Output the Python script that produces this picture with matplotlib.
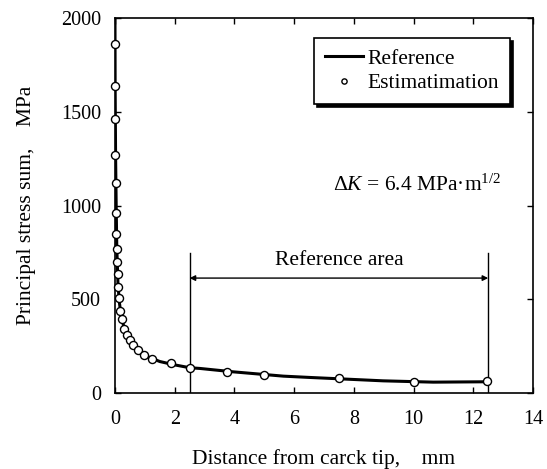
import matplotlib
matplotlib.use("Agg")
import matplotlib.pyplot as plt

plt.rcParams['font.family'] = ['Liberation Serif', 'DejaVu Serif']
plt.rcParams['mathtext.fontset'] = 'custom'
plt.rcParams['mathtext.rm'] = 'Liberation Serif'
plt.rcParams['mathtext.it'] = 'Liberation Serif:italic'

# Reference curve
ref_x = [0.0, 0.005, 0.02, 0.04, 0.06, 0.1, 0.15, 0.2, 0.3, 0.4, 0.5, 0.75,
         1.0, 1.5, 2.0, 2.5, 2.85, 3.96, 5.64, 6.53, 7.76, 8.98, 10.66, 12.45]
ref_y = [2000, 1640, 1270, 1000, 780, 580, 480, 420, 350, 305, 275, 230,
         200, 168, 150, 135, 131, 113, 90, 83, 74, 65, 58, 60]

# Estimated points
est_x = [0.0, 0.0, 0.0, 0.0, 0.04, 0.05, 0.04, 0.06, 0.06, 0.09, 0.09, 0.13,
         0.18, 0.22, 0.31, 0.39, 0.5, 0.61, 0.76, 0.98, 1.23, 1.88, 2.5,
         3.74, 4.99, 7.51, 10.0, 12.47]
est_y = [1860, 1640, 1460, 1270, 1120, 960, 850, 770, 700, 635, 565, 505,
         440, 397, 344, 309, 282, 255, 229, 202, 179, 161, 135,
         110, 96, 78, 57, 64]

area_left = 2.5
area_right = 12.5

fig = plt.figure(figsize=(5.47, 4.69), dpi=100)
ax = fig.add_axes([0.2102, 0.162, 0.7642, 0.7996])

ax.plot(ref_x, ref_y, color='black', lw=2.2, label='Reference', zorder=2)
ax.plot(est_x, est_y, 'o', ms=5.8, mfc='white', mec='black', mew=1.0,
        label='Estimatimation', zorder=3, clip_on=False)

# reference area markers
ax.plot([area_left, area_left], [0, 745], color='black', lw=1.0)
ax.plot([area_right, area_right], [0, 745], color='black', lw=1.0)
ax.annotate('', xy=(area_left, 613), xytext=(area_right, 613),
            arrowprops=dict(arrowstyle='<|-|>', color='black', lw=1.0,
                            mutation_scale=8, shrinkA=0, shrinkB=0))
ax.text((area_left + area_right) / 2, 655, 'Reference area', ha='center',
        va='bottom', fontsize=15.5)

ax.text(7.3, 1110, r'$\mathit{\Delta K}$ = 6.4 MPa·m$^{1/2}$', fontsize=15.5,
        va='center', ha='left')

ax.set_xlim(0, 14)
ax.set_ylim(0, 2000)
ax.set_xticks(range(0, 15, 2))
ax.set_yticks(range(0, 2001, 500))
ax.tick_params(direction='in', length=4, width=1, top=True, right=True,
               labelsize=14.5)
ax.tick_params(axis='x', pad=12)
ax.tick_params(axis='y', pad=10)
for s in ax.spines.values():
    s.set_linewidth(1.2)

ax.set_xlabel('Distance from carck tip,    mm', fontsize=15.5, labelpad=15)
ax.set_ylabel('Principal stress sum,    MPa', fontsize=15.5, labelpad=18)

leg = ax.legend(loc='upper right', bbox_to_anchor=(0.945, 0.947),
                fancybox=False, edgecolor='black', framealpha=1,
                shadow={'color': 'black', 'alpha': 1}, fontsize=15.5,
                handlelength=1.8, handletextpad=0.2, borderpad=0.5,
                borderaxespad=0.0, labelspacing=0.2, markerscale=0.65)
leg.get_frame().set_linewidth(1.2)

fig.savefig('out.png', dpi=100)
